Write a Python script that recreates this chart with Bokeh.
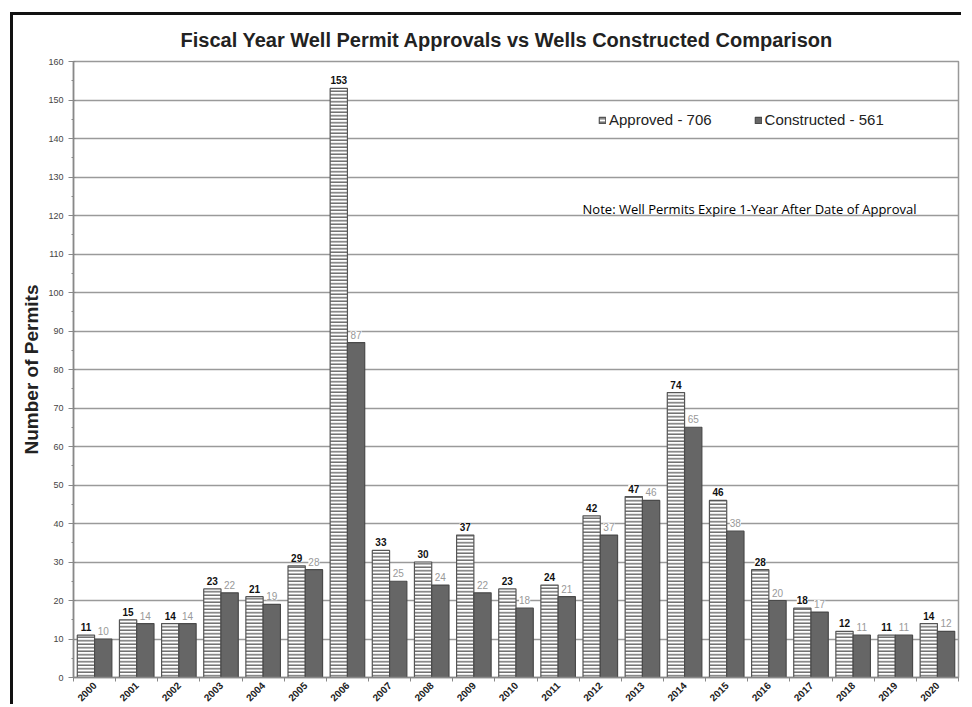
import numpy as np
from bokeh.plotting import figure
from bokeh.models import (ColumnDataSource, FixedTicker, LabelSet, Legend,
                          LegendItem, Label, Range1d)
from bokeh.embed import file_html
from bokeh.resources import INLINE
from bokeh.core.properties import value

# ---- data ----
years = [str(y) for y in range(2000, 2021)]
approved = [11, 15, 14, 23, 21, 29, 153, 33, 30, 37, 23, 24, 42, 47, 74, 46, 28, 18, 12, 11, 14]
constructed = [10, 14, 14, 22, 19, 28, 87, 25, 24, 22, 18, 21, 37, 46, 65, 38, 20, 17, 11, 11, 12]
y_ticks = list(range(0, 170, 10))
y_minor = list(range(5, 160, 10))
approved_label = "Approved - 706"
constructed_label = "Constructed - 561"
title_text = "Fiscal Year Well Permit Approvals vs Wells Constructed Comparison"
note_text = "Note:  Well Permits Expire 1-Year After Date of Approval"
y_label = "Number of Permits"

FONT = "Liberation Sans"
BW = 0.41
idx = np.arange(len(years))

src = ColumnDataSource(dict(
    xa=idx - BW / 2, xc=idx + BW / 2,
    a=approved, c=constructed,
    a_txt=[str(v) for v in approved], c_txt=[str(v) for v in constructed],
))

p = figure(width=951, height=692,
           x_range=Range1d(-0.5, len(years) - 0.5), y_range=Range1d(0, 160),
           output_backend="svg", toolbar_location=None,
           min_border_left=60, min_border_top=45, min_border_right=6, min_border_bottom=20)
p.styles = {"border-top": "3px solid #111", "border-left": "3px solid #111",
            "margin-top": "12px", "margin-left": "10px"}

p.title.text = title_text
p.title.align = "left"
p.title.offset = 107
p.title.text_font = FONT
p.title.text_font_size = "20px"
p.title.text_font_style = "bold"
p.title.text_color = "#222"
p.title.standoff = 22

p.outline_line_color = "#999"
p.outline_line_width = 1.5
p.background_fill_color = "white"
p.border_fill_color = "white"

# grid
p.xgrid.visible = False
p.ygrid.ticker = FixedTicker(ticks=y_ticks)
p.ygrid.grid_line_color = "#9a9a9a"
p.ygrid.grid_line_width = 1.5

# y axis
p.yaxis.ticker = FixedTicker(ticks=y_ticks, minor_ticks=y_minor)
p.yaxis.axis_label = y_label
p.yaxis.axis_label_text_font = FONT
p.yaxis.axis_label_text_font_size = "19px"
p.yaxis.axis_label_text_font_style = "bold"
p.yaxis.axis_label_text_color = "#222"
p.yaxis.axis_label_standoff = 3
p.yaxis.major_label_text_font = FONT
p.yaxis.major_label_text_font_size = "9px"
p.yaxis.major_label_text_color = "#444"
p.yaxis.major_label_standoff = 5
p.yaxis.axis_line_color = "#888"
p.yaxis.axis_line_width = 1.5
p.yaxis.major_tick_line_color = "#888"
p.yaxis.major_tick_out = 5
p.yaxis.major_tick_in = 2
p.yaxis.minor_tick_line_color = "#888"
p.yaxis.minor_tick_out = 2
p.yaxis.minor_tick_in = 0

# x axis
p.xaxis.ticker = FixedTicker(ticks=list(idx), minor_ticks=list(np.arange(-0.5, len(years), 1.0)))
p.xaxis.major_label_overrides = {int(i): y for i, y in zip(idx, years)}
p.xaxis.major_label_orientation = np.pi / 4
p.xaxis.major_label_text_font = FONT
p.xaxis.major_label_text_font_size = "10px"
p.xaxis.major_label_text_font_style = "bold"
p.xaxis.major_label_text_color = "#222"
p.xaxis.major_label_standoff = 2
p.xaxis.major_tick_out = 0
p.xaxis.major_tick_in = 0
p.xaxis.minor_tick_out = 4
p.xaxis.minor_tick_in = 0
p.xaxis.minor_tick_line_color = "#888"
p.xaxis.axis_line_color = "#888"
p.xaxis.axis_line_width = 1.5

# bars
ra = p.vbar(x="xa", top="a", bottom=0, width=BW, source=src,
            fill_color="white", line_color="#555", line_width=1.2,
            hatch_pattern="horizontal_line", hatch_color="#707070",
            hatch_scale=3.5, hatch_weight=1.5)
rc = p.vbar(x="xc", top="c", bottom=0, width=BW, source=src,
            fill_color="#666666", line_color="#4a4a4a", line_width=1.2)

# value labels
p.add_layout(LabelSet(x="xa", y="a", text="a_txt", source=src,
                      text_align="center", text_baseline="bottom", y_offset=4,
                      text_font=value(FONT), text_font_size="10px",
                      text_font_style="bold", text_color="#111",
                      background_fill_color="white"))
p.add_layout(LabelSet(x="xc", y="c", text="c_txt", source=src,
                      text_align="center", text_baseline="bottom", y_offset=4,
                      text_font=value(FONT), text_font_size="10px",
                      text_color="#999", background_fill_color="white"))

# legend
legend = Legend(items=[LegendItem(label=approved_label, renderers=[ra]),
                       LegendItem(label=constructed_label, renderers=[rc])],
                orientation="horizontal", location=(525, 549),
                border_line_color=None, background_fill_alpha=0,
                padding=0, margin=0, spacing=42,
                glyph_width=8, glyph_height=8, label_standoff=3,
                label_text_font=FONT, label_text_font_size="15px",
                label_text_color="#222", label_height=16)
p.add_layout(legend)

# note
p.add_layout(Label(x=11.58, y=121.7, text=note_text, text_baseline="middle",
                   text_font="Open Sans", text_font_size="13px", text_color="#000"))

open("out.html", "w").write(file_html(p, INLINE))
